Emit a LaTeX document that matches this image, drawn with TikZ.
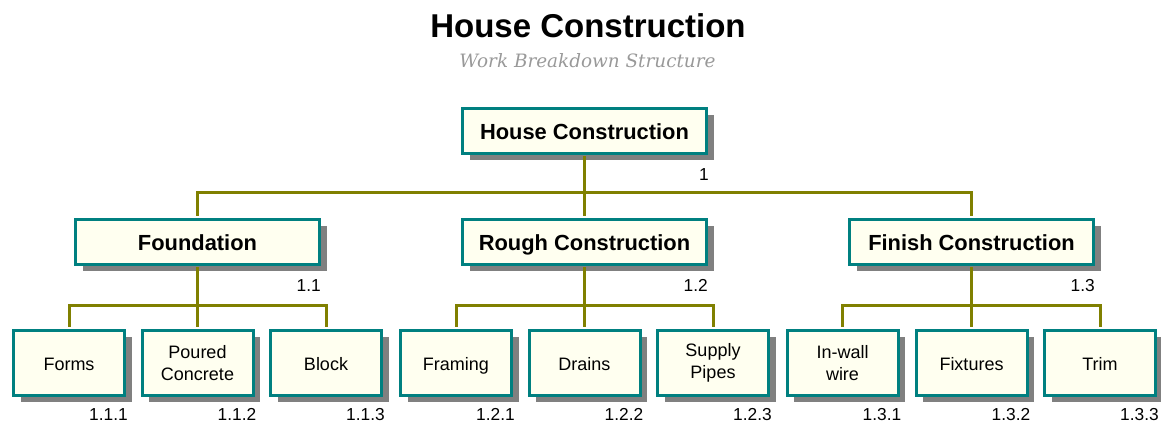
\documentclass[tikz,border=0pt]{standalone}
\usepackage{fontspec}
\setmainfont{Liberation Sans}
\newfontfamily\sottofont{DejaVu Serif}
\usetikzlibrary{shadows}
\definecolor{bordo}{HTML}{008080}
\definecolor{riempi}{HTML}{FFFFF0}
\definecolor{linea}{HTML}{808000}
\definecolor{ombra}{HTML}{808080}
\definecolor{grigio}{HTML}{999999}
\tikzset{
  scatola/.style = {draw=bordo, line width=2.25pt, fill=riempi, inner sep=0pt, align=center,
    drop shadow = {shadow xshift=5.25pt, shadow yshift=-5.25pt, fill=ombra, opacity=1}},
  grande/.style = {scatola, minimum width=183pt, minimum height=33.75pt,
    text height=12.6pt, text depth=0pt, font=\fontsize{16.4}{19}\selectfont\bfseries},
  piccola/.style = {scatola, minimum width=83.25pt, minimum height=48.75pt,
    font=\fontsize{13.5}{17}\selectfont},
  riga/.style = {text height=10.6pt, text depth=0pt},
  codice/.style = {anchor=north east, inner sep=0pt, font=\fontsize{13}{15}\selectfont},
  ramo/.style = {draw=linea, line width=2.25pt, shorten <=1.125pt, shorten >=1.125pt}
}

\begin{document}
\begin{tikzpicture}[x = 0.75pt, y = -0.75pt]
    % Riquadro (in pixel)
    \useasboundingbox (0,0) rectangle (1161,423);
    % Titolo
    \node[anchor=base, font=\fontsize{24.75}{28}\selectfont\bfseries] (titolo) at (588,38) {House Construction};
    \node[anchor=base, text=grigio, font=\sottofont\itshape\fontsize{13.8}{16}\selectfont] (sottotitolo) at (587.5,68) {Work Breakdown Structure};
    % Livello 0
    \node[grande] (casa) at (584.5,131) {House Construction};
    % Livello 1
    \node[grande] (fond) at (197.5,242) {Foundation};
    \node[grande] (grezzo) at (584.5,242) {Rough Construction};
    \node[grande] (finit) at (971.5,242) {Finish Construction};
    % Livello 2
    \node[piccola, riga] (forme) at (69,363) {Forms};
    \node[piccola] (getto) at (197.5,363) {Poured\\Concrete};
    \node[piccola, riga] (blocchi) at (326,363) {Block};
    \node[piccola, riga] (telaio) at (456,363) {Framing};
    \node[piccola, riga] (scarichi) at (584.5,363) {Drains};
    \node[piccola] (tubi) at (713,363) {Supply\\Pipes};
    \node[piccola] (cavi) at (842.5,363) {In-wall\\wire};
    \node[piccola, riga] (arredi) at (971.5,363) {Fixtures};
    \node[piccola, riga] (rifiniture) at (1100,363) {Trim};
    % Codici WBS
    \node[codice] (c1) at ([xshift=0.75pt, yshift=-9.75pt]casa.south east) {1};
    \node[codice] (c11) at ([yshift=-9.75pt]fond.south east) {1.1};
    \node[codice] (c12) at ([yshift=-9.75pt]grezzo.south east) {1.2};
    \node[codice] (c13) at ([yshift=-9.75pt]finit.south east) {1.3};
    \foreach \n/\c in {forme/1.1.1, getto/1.1.2, blocchi/1.1.3, telaio/1.2.1, scarichi/1.2.2,
                       tubi/1.2.3, cavi/1.3.1, arredi/1.3.2, rifiniture/1.3.3}
        \node[codice] (c-\n) at ([xshift=1.5pt, yshift=-8.6pt]\n.south east) {\c};
    % Collegamenti
    \coordinate (barra0) at (0,193);
    \coordinate (barra1) at (0,306);
    \foreach \f in {fond, grezzo, finit}
        \draw[ramo] (casa.south) -- (casa.south |- barra0) -| (\f.north);
    \foreach \f in {forme, getto, blocchi}
        \draw[ramo] (fond.south) -- (fond.south |- barra1) -| (\f.north);
    \foreach \f in {telaio, scarichi, tubi}
        \draw[ramo] (grezzo.south) -- (grezzo.south |- barra1) -| (\f.north);
    \foreach \f in {cavi, arredi, rifiniture}
        \draw[ramo] (finit.south) -- (finit.south |- barra1) -| (\f.north);
\end{tikzpicture}
\end{document}
